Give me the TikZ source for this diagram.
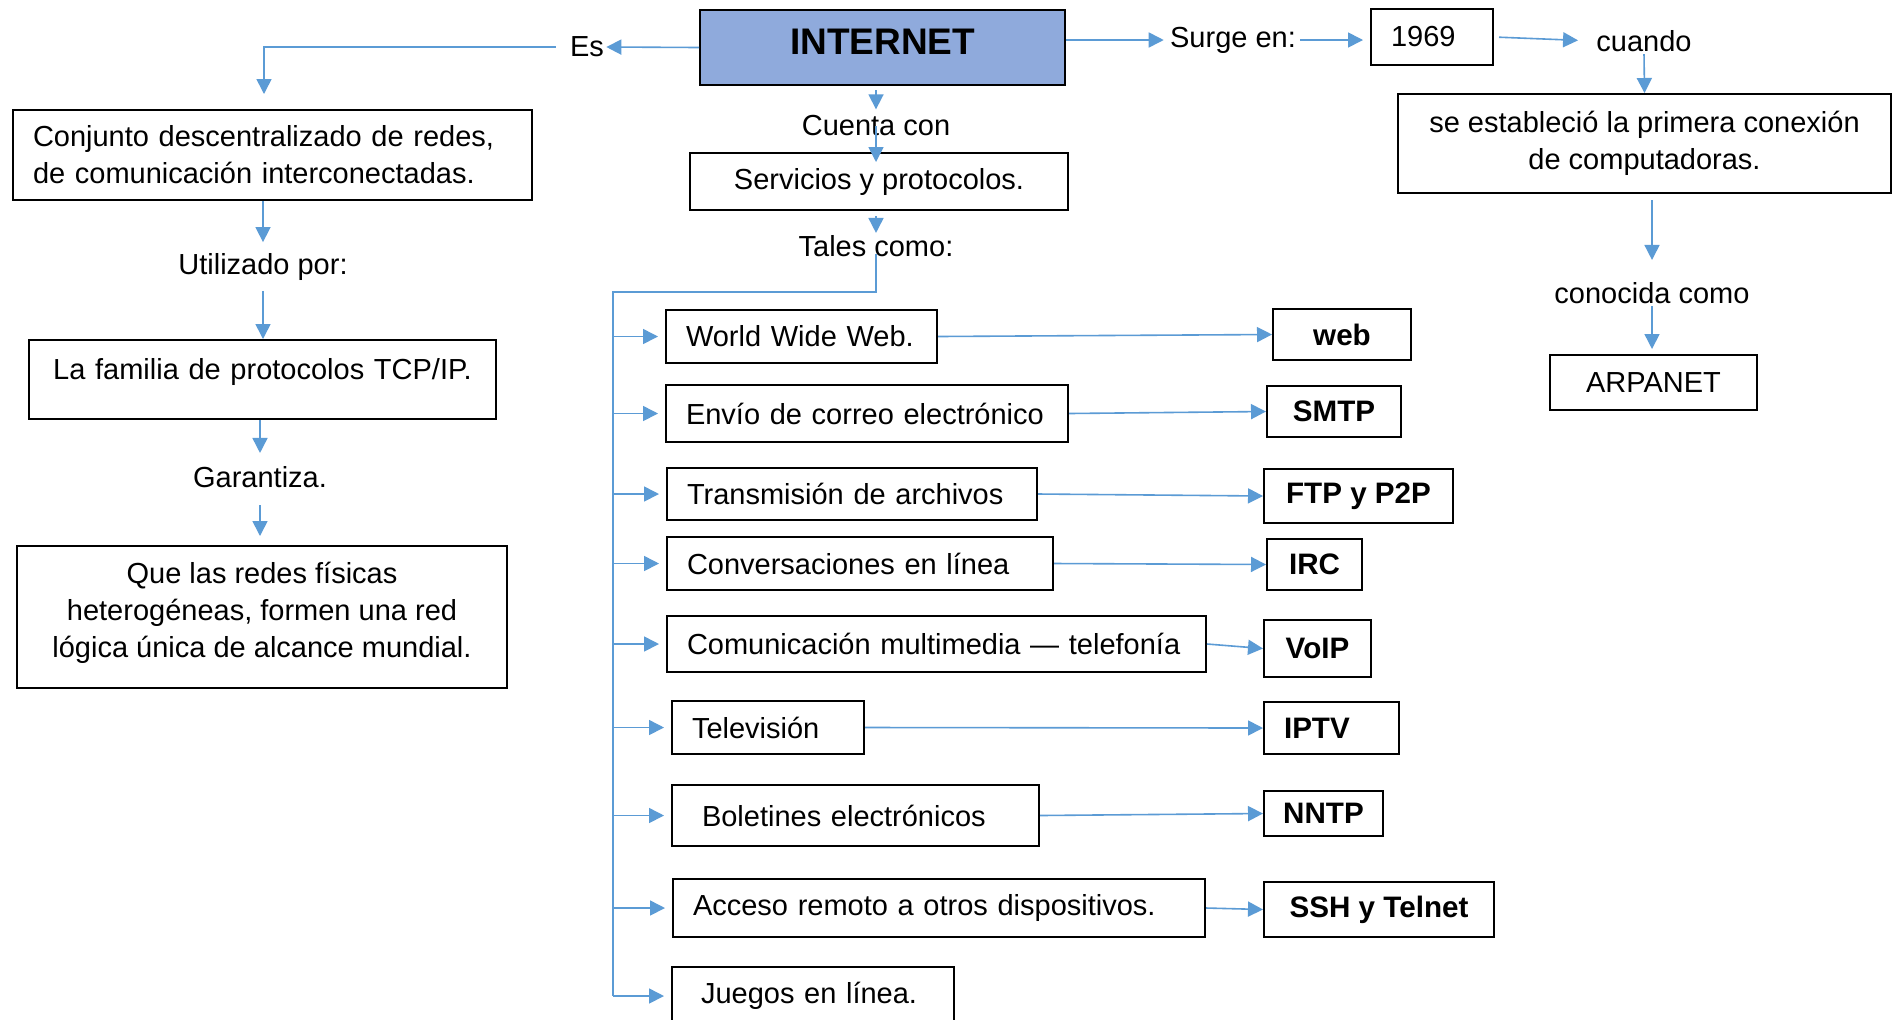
\documentclass[tikz,border=0pt]{standalone}
\usepackage{fontspec}
\setmainfont{Liberation Sans}
\usepackage{tikz}
\definecolor{linkblue}{RGB}{91,155,213}
\definecolor{headblue}{RGB}{143,170,220}
\usetikzlibrary{arrows.meta}

\begin{document}
\begin{tikzpicture}[
    x=0.5pt, y=-0.5pt,
    every node/.style={font=\fontsize{14.5}{18.4}\selectfont},
    concept/.style 2 args={rectangle, draw, line width=1pt, align=center, minimum width=#1, minimum height=#2},
    service/.style 2 args={rectangle, draw, line width=1pt, anchor=north west, align=left, inner xsep=10pt, text width=#1, minimum height=#2,
        execute at begin node={\hbox\bgroup}, execute at end node={\egroup}},
    proto/.style 2 args={rectangle, draw, line width=1pt, anchor=north west, font=\fontsize{14.8}{18.4}\selectfont\bfseries, minimum width=#1, minimum height=#2},
    word/.style={inner sep=1pt},
    arrow/.style={-{Triangle[length=7.5pt,width=7.5pt]}, draw=linkblue, line width=0.8pt},
    link/.style={draw=linkblue, line width=0.8pt}
]
\path[use as bounding box, fill=white] (0,0) rectangle (1893,1019);

\node[concept={182.5pt}{37.5pt}, fill=headblue, text depth=6pt, font=\fontsize{18.5}{22}\selectfont\bfseries] (internet) at (882.5,47.5) {INTERNET};

% left branch
\node[word] (es) at (587,47) {Es};
\node[concept={259.5pt}{45pt}, anchor=north west, align=left, text width=239.5pt, inner xsep=10pt] (conjunto) at (12,109) {Conjunto descentralizado de redes,\\de comunicación interconectadas.};
\node[word] (utilizado) at (263,267) {Utilizado por:};
\node[concept={233.5pt}{39.5pt}, anchor=north west, text width=215pt, text height=15.5pt, text depth=16pt, inner ysep=4pt] (tcpip) at (28,339) {La familia de protocolos TCP/IP.};
\node[word] (garantiza) at (260,477) {Garantiza.};
\node[concept={245pt}{71pt}, text depth=7pt] (redes) at (262,617) {Que las redes físicas\\heterogéneas, formen una red\\lógica única de alcance mundial.};

% middle branch
\coordinate (mid) at (876,0);
\node[word] (cuenta) at (876,126) {Cuenta con};
\node[concept={189pt}{28.5pt}] (servicios) at (879,181.5) {Servicios y protocolos.};
\node[word] (tales) at (876,246) {Tales como:};
\coordinate (trunk) at (613,292);

\node[service={115.5pt}{26.5pt}] (s1) at (665,309) {World Wide Web.};
\node[service={181pt}{28.5pt}] (s2) at (665,384) {Envío de correo electrónico};
\node[service={165pt}{26pt}] (s3) at (666,467) {Transmisión de archivos};
\node[service={173pt}{26.5pt}] (s4) at (666,536) {Conversaciones en línea};
\node[service={249.5pt}{28pt}] (s5) at (666,615) {Comunicación multimedia — telefonía};
\node[service={76pt}{26.5pt}] (s6) at (671,700) {Televisión};
\node[service={153.5pt}{30.5pt}, inner xsep=15pt] (s7) at (671,784) {Boletines electrónicos};
\node[service={246pt}{29pt}] (s8) at (672,878) {Acceso remoto a otros dispositivos.};
\node[service={112pt}{29pt}, inner xsep=14.5pt] (s9) at (671,966) {Juegos en línea.};

\node[proto={69pt}{25.5pt}] (p1) at (1272,308) {web};
\node[proto={67pt}{25.5pt}] (p2) at (1266,385) {SMTP};
\node[proto={94.5pt}{27pt}] (p3) at (1263,468) {FTP y P2P};
\node[proto={47.5pt}{25.5pt}] (p4) at (1266,538) {IRC};
\node[proto={53.5pt}{28.5pt}] (p5) at (1263,619) {VoIP};
\node[proto={67.5pt}{26pt}, text width=47.5pt, inner xsep=10pt, align=left] (p6) at (1263,701) {IPTV};
\node[proto={59.5pt}{22.5pt}] (p7) at (1263,790) {NNTP};
\node[proto={115pt}{27.5pt}] (p8) at (1263,881) {SSH y Telnet};

% right branch
\node[word] (surge) at (1233,40) {Surge en:};
\node[concept={61pt}{28pt}, anchor=north west, align=left, text width=41pt, inner xsep=10pt] (year) at (1370,8) {1969};
\node[word] (cuando) at (1644,41) {cuando};
\node[concept={246.5pt}{49.5pt}] (conexion) at (1644.5,143.5) {se estableció la primera conexión\\de computadoras.};
\node[word] (conocida) at (1652,293) {conocida como};
\node[concept={103.5pt}{27.5pt}] (arpanet) at (1653.5,382.5) {ARPANET};

% connectors
\draw[arrow] (internet.west) -- (es.east);
\draw[arrow, shorten <=6pt, shorten >=7.5pt] (es.west) -| ([xshift=-4.25pt]conjunto.north);
\draw[arrow, shorten >=4.5pt] (conjunto.south -| utilizado.north) -- (utilizado.north);
\draw[arrow, shorten <=4pt] (utilizado.south) -- (utilizado.south |- tcpip.north);
\draw[arrow, shorten >=5.5pt] (tcpip.south -| garantiza.north) -- (garantiza.north);
\draw[arrow, shorten <=7.5pt, shorten >=4.5pt] (garantiza.south) -- (redes.north -| garantiza.south);

\draw[arrow, shorten <=2pt, shorten >=2pt] (internet.south -| mid) -- (cuenta.north);
\draw[arrow, shorten >=-5pt] (cuenta.center) -- (servicios.north -| mid);
\draw[arrow, shorten <=2.5pt] (servicios.south -| mid) -- (tales.north);
\draw[link] ([yshift=-4pt]tales.center) |- (trunk) -- (trunk |- s9.west);

\draw[arrow, shorten >=3.5pt] (trunk |- s1.west) -- (s1.west);
\draw[arrow, shorten >=3.5pt] (trunk |- s2.west) -- (s2.west);
\draw[arrow, shorten >=3.5pt] (trunk |- s3.west) -- (s3.west);
\draw[arrow, shorten >=3.5pt] (trunk |- s4.west) -- (s4.west);
\draw[arrow, shorten >=3.5pt] (trunk |- s5.west) -- (s5.west);
\draw[arrow, shorten >=3.5pt] (trunk |- s6.west) -- (s6.west);
\draw[arrow, shorten >=3.5pt] (trunk |- s7.west) -- (s7.west);
\draw[arrow, shorten >=3.5pt] (trunk |- s8.west) -- (s8.west);
\draw[arrow, shorten >=3.5pt] (trunk |- s9.west) -- (s9.west);

\draw[arrow] (s1.east) -- (p1.west);
\draw[arrow] (s2.east) -- (p2.west);
\draw[arrow] (s3.east) -- (p3.west);
\draw[arrow] (s4.east) -- (p4.west);
\draw[arrow] (s5.east) -- (p5.west);
\draw[arrow] (s6.east) -- (p6.west);
\draw[arrow] (s7.east) -- (p7.west);
\draw[arrow] (s8.east) -- (p8.west);

\draw[arrow, shorten >=2pt] (internet.east |- surge.west) -- (surge.west);
\draw[arrow, shorten <=1pt, shorten >=3.5pt] (surge.east) -- (surge.east -| year.west);
\draw[arrow, shorten <=2.5pt, shorten >=8pt] (year.east) -- (cuando.west);
\draw[arrow] (cuando.south) -- (conexion.north);
\draw[arrow, shorten <=3pt, shorten >=10pt] (conexion.south -| conocida.north) -- (conocida.north);
\draw[arrow, shorten >=2.5pt] (conocida.south) -- (arpanet.north -| conocida.south);

\end{tikzpicture}
\end{document}
